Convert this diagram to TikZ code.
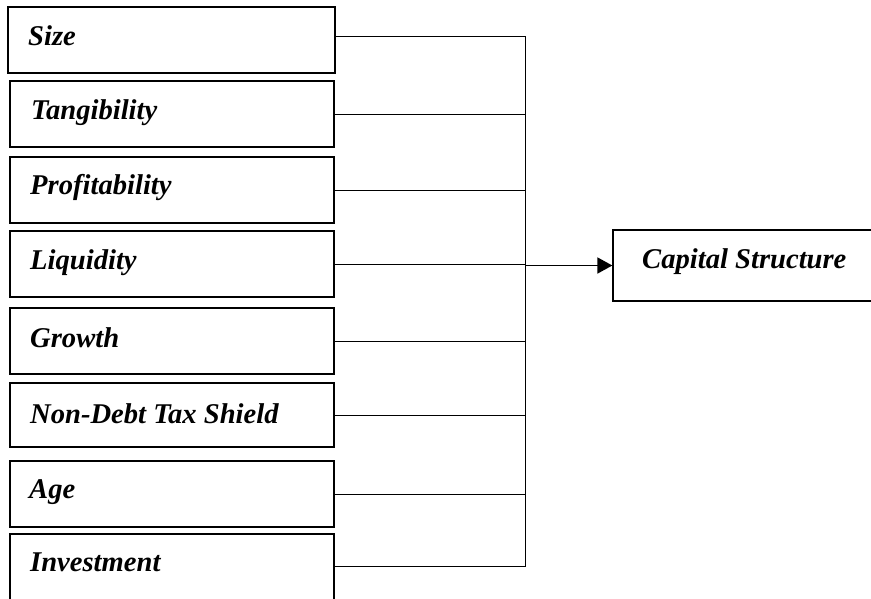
\documentclass[tikz,border=0pt]{standalone}
\usepackage{fontspec}
\setmainfont{Liberation Serif}
\usetikzlibrary{arrows.meta}
\begin{document}
\begin{tikzpicture}[x=1pt,y=-1pt,
  box/.style={draw, line width=1.3pt, rectangle, inner sep=0pt},
  lbl/.style={anchor=base west, inner sep=0pt, font=\fontsize{28.6}{30}\selectfont\bfseries\itshape},
  conn/.style={line width=1pt},
  arr/.style={line width=1.8pt, -{Triangle[length=15pt,width=16pt]}}]
\clip (0,0) rectangle (871,598);
\fill[white] (0,0) rectangle (871,598);
% boxes
\node[box, minimum width=327pt, minimum height=66pt] (size) at (171.5,40) {};
\node[box, minimum width=324pt, minimum height=66pt] (tang) at (172,114) {};
\node[box, minimum width=324pt, minimum height=66pt] (prof) at (172,190) {};
\node[box, minimum width=324pt, minimum height=66pt] (liq) at (172,264) {};
\node[box, minimum width=324pt, minimum height=66pt] (grow) at (172,341) {};
\node[box, minimum width=324pt, minimum height=64pt] (ndts) at (172,415) {};
\node[box, minimum width=324pt, minimum height=66pt] (age) at (172,494) {};
\node[box, minimum width=324pt, minimum height=68pt] (inv) at (172,568) {};
\node[box, minimum width=272pt, minimum height=71pt] (cap) at (749,265.5) {};
% labels
\node[lbl] (sizet) at (28,45) {Size};
\node[lbl] (tangt) at (31,119) {Tangibility};
\node[lbl] (proft) at (30,194) {Profitability};
\node[lbl] (liqt) at (30,269) {Liquidity};
\node[lbl] (growt) at (30,347) {Growth};
\node[lbl] (ndtst) at (30,423) {Non-Debt Tax Shield};
\node[lbl] (aget) at (29,498) {Age};
\node[lbl] (invt) at (30,571) {Investment};
\node[lbl] (capt) at (642,268) {Capital Structure};
% bus
\coordinate (bustop) at (525,36);
\coordinate (busbot) at (525,566);
\draw[conn] ([yshift=4pt]size.east) -- (bustop) -- (busbot) -- ([yshift=2pt]inv.east);
\foreach \n in {tang,prof,liq,grow,ndts,age}
  \draw[conn] (\n.east) -- (\n.east -| bustop);
\draw[arr] (cap.west -| bustop) -- (cap.west);
\end{tikzpicture}
\end{document}
